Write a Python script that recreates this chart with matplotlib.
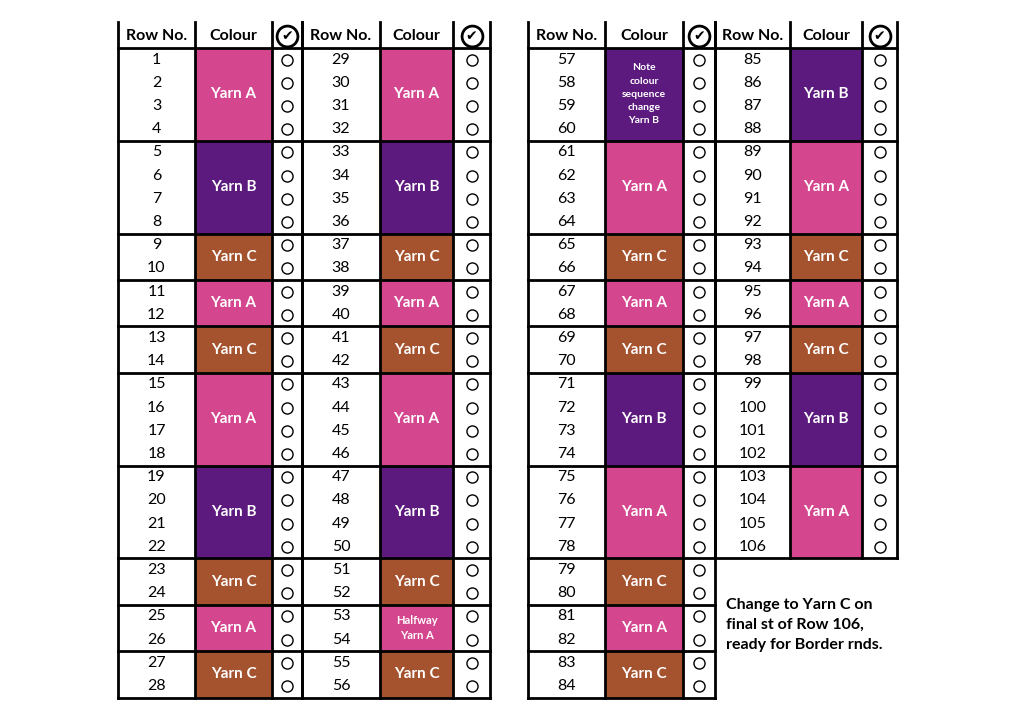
import matplotlib
matplotlib.use("Agg")
import matplotlib.pyplot as plt

colours = {"A": "#D4478F", "B": "#5C1A7E", "C": "#A5532E"}
headers = ["Row No.", "Colour", "\u2714"]

# blocks: (yarn, number of rows, label)
group1 = [("A",4,"Yarn A"),("B",4,"Yarn B"),("C",2,"Yarn C"),("A",2,"Yarn A"),("C",2,"Yarn C"),
          ("A",4,"Yarn A"),("B",4,"Yarn B"),("C",2,"Yarn C"),("A",2,"Yarn A"),("C",2,"Yarn C")]
group2 = [("A",4,"Yarn A"),("B",4,"Yarn B"),("C",2,"Yarn C"),("A",2,"Yarn A"),("C",2,"Yarn C"),
          ("A",4,"Yarn A"),("B",4,"Yarn B"),("C",2,"Yarn C"),("A",2,"Halfway\nYarn A"),("C",2,"Yarn C")]
group3 = [("B",4,"Note\ncolour\nsequence\nchange\nYarn B"),("A",4,"Yarn A"),("C",2,"Yarn C"),("A",2,"Yarn A"),("C",2,"Yarn C"),
          ("B",4,"Yarn B"),("A",4,"Yarn A"),("C",2,"Yarn C"),("A",2,"Yarn A"),("C",2,"Yarn C")]
group4 = [("B",4,"Yarn B"),("A",4,"Yarn A"),("C",2,"Yarn C"),("A",2,"Yarn A"),("C",2,"Yarn C"),
          ("B",4,"Yarn B"),("A",4,"Yarn A")]
start_rows = [1, 29, 57, 85]
# column x edges for each group: row, colour, check
col_edges = [(118,195,272,302),(302,380,453,490),(528,605,683,715),(715,790,862,897)]
note = "Change to Yarn C on\nfinal st of Row 106,\nready for Border rnds."

FONT = "Lato"
fig = plt.figure(figsize=(10.24, 7.26), dpi=100)
ax = fig.add_axes([0, 0, 1, 1])
ax.set_xlim(0, 1024); ax.set_ylim(726, 0); ax.axis("off")

top, head_h, rh = 22, 26, 23.2
y0 = top + head_h
for g, blocks in enumerate([group1, group2, group3, group4]):
    x0, x1, x2, x3 = col_edges[g]
    # header
    ax.text((x0+x1)/2, top+head_h/2+1, headers[0], ha="center", va="center", fontsize=11.5, fontweight="bold", family=FONT)
    ax.text((x1+x2)/2, top+head_h/2+1, headers[1], ha="center", va="center", fontsize=11.5, fontweight="bold", family=FONT)
    ax.plot((x2+x3)/2, top+head_h/2+1, "o", ms=15, mfc="white", mec="black", mew=2)
    ax.text((x2+x3)/2, top+head_h/2+1, headers[2], ha="center", va="center", fontsize=10, family="DejaVu Sans")
    ax.plot([x0, x3], [y0, y0], color="black", lw=2)
    r = start_rows[g]
    y = y0
    for yarn, n, label in blocks:
        ax.add_patch(plt.Rectangle((x1, y), x2-x1, n*rh, color=colours[yarn], lw=0))
        fs = 11 if "\n" not in label else (7.5 if label.count("\n") > 1 else 8)
        ax.text((x1+x2)/2, y+n*rh/2, label, ha="center", va="center", color="white",
                fontsize=fs, fontweight="bold", family=FONT, linespacing=1.6 if label.count("\n") > 1 else 1.4)
        for i in range(n):
            yc = y + (i+0.5)*rh
            ax.text((x0+x1)/2, yc, str(r), ha="center", va="center", fontsize=11.5, family=FONT)
            ax.plot((x2+x3)/2, yc, "o", ms=8, mfc="white", mec="black", mew=1)
            r += 1
        y += n*rh
        ax.plot([x0, x3], [y, y], color="black", lw=2)
    for x in (x0, x1, x2, x3):
        ax.plot([x, x], [top, y], color="black", lw=2)

ax.text(726, 625, note, ha="left", va="center", fontsize=11.5, fontweight="bold", family=FONT, linespacing=1.5)
fig.savefig("out.png", dpi=100, facecolor="white")
